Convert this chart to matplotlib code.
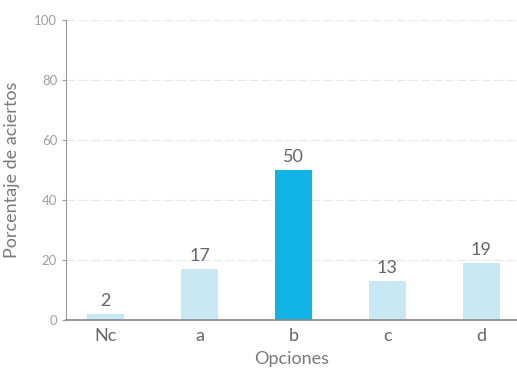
import matplotlib.pyplot as plt

# datos
opciones = ['Nc', 'a', 'b', 'c', 'd']
porcentajes = [2, 17, 50, 13, 19]
colores = ['#c8e9f3', '#c8e9f3', '#10b3e6', '#c8e9f3', '#c8e9f3']
y_ticks = [0, 20, 40, 60, 80, 100]

gris = '#7a7a7a'
plt.rcParams['font.family'] = ['Lato', 'DejaVu Sans']

fig = plt.figure(figsize=(5.17, 3.75), dpi=100)
ax = fig.add_axes([0.128, 0.147, 0.872, 0.80])

x = range(len(opciones))
ax.bar(x, porcentajes, width=0.4, color=colores, zorder=2)
for i, v in zip(x, porcentajes):
    ax.text(i, v + 1.5, str(v), ha='center', va='bottom', fontsize=13, color='#666666')

ax.set_xlim(-0.42, 4.38)
ax.set_ylim(0, 100)
ax.set_yticks(y_ticks)
ax.set_xticks(list(x))
ax.set_xticklabels(opciones, fontsize=13, color='#666666')
ax.tick_params(axis='y', labelsize=9.5, colors='#a0a0a0', length=3, width=0.8)
ax.tick_params(axis='x', length=0, pad=6)
ax.yaxis.grid(True, color='#e8e8e8', linewidth=0.8, linestyle=(0, (8, 3)), zorder=0)

for s in ['top', 'right']:
    ax.spines[s].set_visible(False)
ax.spines['left'].set_color('#999999')
ax.spines['bottom'].set_color('#888888')
ax.spines['bottom'].set_linewidth(1.2)

ax.set_xlabel('Opciones', fontsize=13, color=gris, labelpad=5)
ax.set_ylabel('Porcentaje de aciertos', fontsize=13, color=gris, labelpad=10)

fig.savefig('out.png', dpi=100)
